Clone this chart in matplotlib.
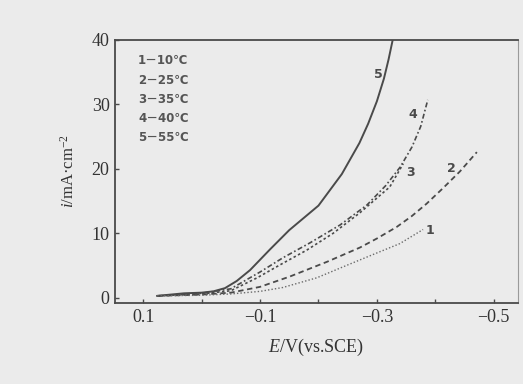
import matplotlib
matplotlib.use("Agg")
import matplotlib.pyplot as plt

plt.rcParams["mathtext.fontset"] = "custom"
plt.rcParams["mathtext.rm"] = "Liberation Serif"
plt.rcParams["mathtext.it"] = "Liberation Serif:italic"

# E / V (vs. SCE) and i / mA cm^-2
e5 = [0.076, 0.03, 0.0, -0.02, -0.04, -0.06, -0.083, -0.117, -0.15, -0.2, -0.24, -0.27, -0.285, -0.30, -0.312, -0.32, -0.327]
i5 = [0.3, 0.7, 0.8, 1.0, 1.5, 2.6, 4.3, 7.5, 10.5, 14.3, 19.2, 24.0, 27.0, 30.5, 34.0, 37.0, 40.0]
e4 = [0.076, 0.0, -0.05, -0.1, -0.139, -0.185, -0.237, -0.283, -0.315, -0.34, -0.36, -0.375, -0.387]
i4 = [0.3, 0.7, 1.4, 4.0, 6.2, 8.5, 11.3, 14.4, 17.4, 20.3, 23.4, 26.6, 30.7]
e3 = [0.076, 0.0, -0.05, -0.095, -0.134, -0.18, -0.225, -0.271, -0.322, -0.345]
i3 = [0.3, 0.6, 1.1, 3.1, 5.1, 7.4, 10.0, 13.2, 17.2, 20.8]
e2 = [0.076, 0.0, -0.05, -0.1, -0.151, -0.215, -0.271, -0.30, -0.334, -0.36, -0.385, -0.413, -0.442, -0.471]
i2 = [0.3, 0.5, 0.8, 1.7, 3.3, 5.6, 7.8, 9.2, 11.0, 12.7, 14.6, 17.0, 19.6, 22.6]
e1 = [0.076, 0.0, -0.05, -0.1, -0.139, -0.197, -0.242, -0.293, -0.339, -0.379]
i1 = [0.3, 0.4, 0.6, 1.0, 1.6, 3.1, 4.8, 6.7, 8.4, 10.6]

legend_lines = ["1－10℃", "2－25℃", "3－35℃", "4－40℃", "5－55℃"]
xticks = [0.1, 0.0, -0.1, -0.2, -0.3, -0.4, -0.5]
xlabels = ["0.1", "", "−0.1", "", "−0.3", "", "−0.5"]
yticks = [0, 10, 20, 30, 40]

bg = "#ebebeb"
ink = "#4a4a4a"

fig = plt.figure(figsize=(5.23, 3.84), dpi=100, facecolor=bg)
ax = fig.add_axes([0.22, 0.211, 0.77, 0.685])
ax.set_facecolor(bg)

ax.plot(e5, i5, color=ink, lw=1.4, ls="-")
ax.plot(e4, i4, color=ink, lw=1.2, ls=(0, (3, 1.5, 1, 1.5)))
ax.plot(e3, i3, color=ink, lw=1.2, ls=(0, (1.5, 1.5)))
ax.plot(e2, i2, color=ink, lw=1.3, ls=(0, (3, 2)))
ax.plot(e1, i1, color="#6a6a6a", lw=1.0, ls=(0, (1, 1.5)))

# curve numbers
ax.text(-0.302, 34.6, "5", fontsize=9, color=ink, ha="center", va="center", fontweight="bold")
ax.text(-0.362, 28.4, "4", fontsize=9, color=ink, ha="center", va="center", fontweight="bold")
ax.text(-0.357, 19.5, "3", fontsize=9, color=ink, ha="center", va="center", fontweight="bold")
ax.text(-0.427, 20.1, "2", fontsize=9, color=ink, ha="center", va="center", fontweight="bold")
ax.text(-0.391, 10.5, "1", fontsize=9, color=ink, ha="center", va="center", fontweight="bold")

# legend block
for k, s in enumerate(legend_lines):
    ax.text(0.057, 1 - 0.08 - k * 0.073, s, transform=ax.transAxes, fontsize=8.5,
            color="#555555", ha="left", va="center", fontweight="bold",
            family=["DejaVu Sans", "Noto Sans CJK SC"])

ax.set_xlim(0.148, -0.541)
ax.set_ylim(-0.8, 40)
ax.set_xticks(xticks)
ax.set_xticklabels(xlabels)
ax.set_yticks(yticks)
ax.tick_params(direction="in", length=3, width=1, colors=ink, labelsize=13, pad=4)
for lab in ax.get_xticklabels() + ax.get_yticklabels():
    lab.set_family("Liberation Serif")
    lab.set_color("#333333")

for side in ["left", "bottom", "top"]:
    ax.spines[side].set_color(ink)
    ax.spines[side].set_linewidth(1.3)
ax.spines["right"].set_color("#9a9a9a")
ax.spines["right"].set_linewidth(0.8)

ax.set_xlabel("$\\mathit{E}$/V(vs.SCE)", fontsize=13, family="Liberation Serif", color="#333333", labelpad=8)
ax.set_ylabel("$\\mathit{i}$/mA·cm$^{-2}$", fontsize=12, family="Liberation Serif", color="#333333", labelpad=10)

fig.savefig("out.png", dpi=100, facecolor=bg)
